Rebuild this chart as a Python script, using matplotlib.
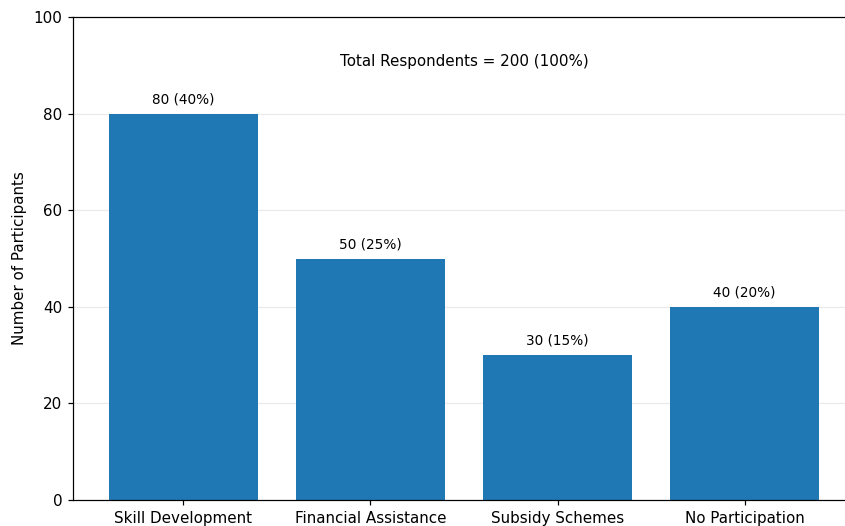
import matplotlib
matplotlib.use("Agg")
import matplotlib.pyplot as plt

categories = ["Skill Development", "Financial Assistance", "Subsidy Schemes", "No Participation"]
participants = [80, 50, 30, 40]
percentages = [40, 25, 15, 20]
total = 200

DPI = 109
fig = plt.figure(figsize=(845 / DPI, 526 / DPI), dpi=DPI)
ax = fig.add_axes([73 / 845, 26 / 526, 782 / 845, 483 / 526])

bars = ax.bar(categories, participants, width=0.8, color="#1f77b4")
for i, (v, p) in enumerate(zip(participants, percentages)):
    ax.text(i, v + 1.5, f"{v} ({p}%)", ha="center", va="bottom", fontsize=9)

ax.text(0.5, 0.908, f"Total Respondents = {total} (100%)", transform=ax.transAxes,
        ha="center", va="center", fontsize=10)

ax.set_ylim(0, 100)
ax.set_ylabel("Number of Participants")
ax.yaxis.grid(True, color="#dddddd", alpha=0.6, linewidth=0.8)
ax.set_axisbelow(True)
ax.tick_params(labelsize=10)

fig.savefig("out.png", dpi=DPI)
